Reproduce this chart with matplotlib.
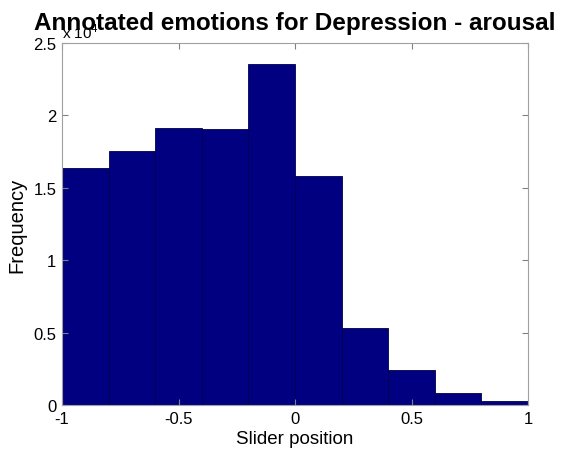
import numpy as np
import matplotlib
matplotlib.use("Agg")
import matplotlib.pyplot as plt

plt.rcParams['font.family'] = ['Liberation Sans', 'DejaVu Sans']

# histogram of slider positions (10 bins from -1 to 1)
bin_edges = np.linspace(-1, 1, 11)
counts = [16400, 17550, 19100, 19030, 23520, 15780, 5340, 2420, 850, 280]
yticks = [0, 5000, 10000, 15000, 20000, 25000]
ytick_labels = ["0", "0.5", "1", "1.5", "2", "2.5"]
xticks = [-1, -0.5, 0, 0.5, 1]
xtick_labels = ["-1", "-0.5", "0", "0.5", "1"]

fig = plt.figure(figsize=(5.66, 4.52), dpi=100)
ax = fig.add_axes([0.1095, 0.1018, 0.8235, 0.8009])

ax.bar(bin_edges[:-1], counts, width=np.diff(bin_edges), align='edge',
       color='#000080', edgecolor='#00004a', linewidth=0.6)

ax.set_xlim(-1, 1)
ax.set_ylim(0, 25000)
ax.set_xticks(xticks)
ax.set_xticklabels(xtick_labels)
ax.set_yticks(yticks)
ax.set_yticklabels(ytick_labels)
ax.tick_params(direction='in', top=True, right=True, labelsize=12,
               color='#808080', length=4)
ax.tick_params(axis='x', pad=4)
ax.tick_params(axis='y', pad=4)
for s in ax.spines.values():
    s.set_color('#a0a0a0')

ax.set_xlabel("Slider position", fontsize=13.5, labelpad=3)
ax.set_ylabel("Frequency", fontsize=14.5, labelpad=5)
ax.set_title("Annotated emotions for Depression - arousal",
             fontsize=17.5, fontweight='bold', pad=10)
ax.text(0.0, 1.005, r"x 10$^4$", transform=ax.transAxes, fontsize=11,
        ha='left', va='bottom')

fig.savefig("out.png", dpi=100)
